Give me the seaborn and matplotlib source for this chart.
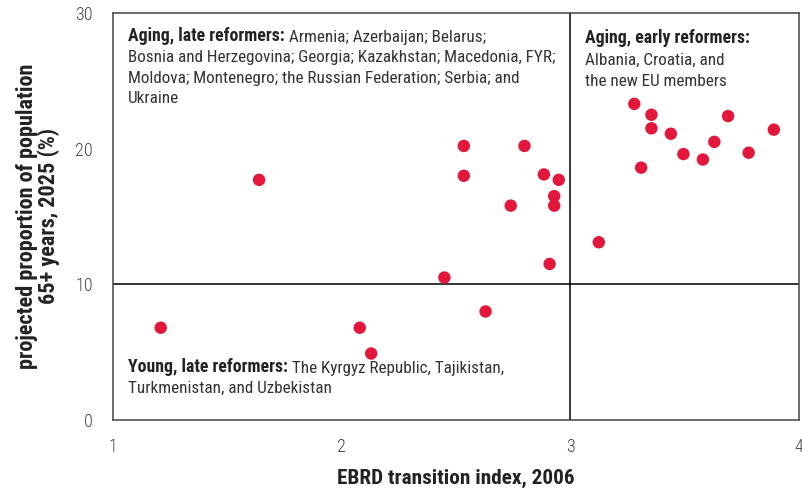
import pandas as pd
import numpy as np
import matplotlib.pyplot as plt
import seaborn as sns

# EBRD transition index 2006 vs projected share of population 65+ in 2025
ebrd_index = [1.21, 1.64, 2.08, 2.13, 2.45, 2.535, 2.535, 2.63, 2.74, 2.80,
              2.885, 2.91, 2.93, 2.93, 2.95, 3.125, 3.28, 3.31, 3.355, 3.355,
              3.44, 3.495, 3.58, 3.63, 3.69, 3.78, 3.89]
pop_65plus = [6.8, 17.7, 6.8, 4.9, 10.5, 20.2, 18.0, 8.0, 15.8, 20.2,
              18.1, 11.5, 16.5, 15.8, 17.7, 13.1, 23.3, 18.6, 22.5, 21.5,
              21.1, 19.6, 19.2, 20.5, 22.4, 19.7, 21.4]
x_ticks = [1, 2, 3, 4]
y_ticks = [0, 10, 20, 30]

df = pd.DataFrame({"ebrd": ebrd_index, "old": pop_65plus})

sns.set_style("white")
plt.rcParams["font.family"] = ["Roboto Condensed", "DejaVu Sans"]

fig, ax = plt.subplots(figsize=(8.03, 4.9), dpi=100)
fig.subplots_adjust(left=0.1403, right=0.995, top=0.9735, bottom=0.1429)

ax.axhline(10, color="black", lw=1.1, zorder=1)
ax.axvline(3, color="black", lw=1.1, zorder=1)
sns.scatterplot(data=df, x="ebrd", y="old", color="#e2173b", s=80,
                edgecolor="none", ax=ax, zorder=3)

ax.set_xlim(1, 4)
ax.set_ylim(0, 30)
ax.set_xticks(x_ticks)
ax.set_yticks(y_ticks)
ax.set_xticklabels([str(v) for v in x_ticks], fontweight="light")
ax.set_yticklabels([str(v) for v in y_ticks], fontweight="light")
for s in ax.spines.values():
    s.set_color("#444444")
    s.set_linewidth(1.1)
ax.tick_params(axis="x", direction="out", length=5, width=1, color="#444444",
               labelsize=13, labelcolor="#444444", pad=8)
ax.tick_params(axis="y", direction="inout", length=12, width=1, color="#444444",
               labelsize=13, labelcolor="#444444", pad=8)

ax.set_xlabel("EBRD transition index, 2006", fontsize=15.3, fontweight="bold",
              labelpad=9, color="#222222")
ax.set_ylabel("projected proportion of population\n65+ years, 2025 (%)",
              fontsize=16, fontweight="bold", labelpad=11, color="#222222",
              linespacing=1.0)

fs = 12.3
fsb = 12.8
grey = "#333333"
dark = "#222222"

# upper left: aging, late reformers
t1 = ax.text(1.067, 27.95, "Aging, late reformers:", fontsize=fsb,
             fontweight="bold", color=dark, va="baseline")
ax.annotate(" Armenia; Azerbaijan; Belarus;", xy=(1, 0), xycoords=t1,
            fontsize=fs, color=grey, va="bottom")
left_lines = ["Bosnia and Herzegovina; Georgia; Kazakhstan; Macedonia, FYR;",
              "Moldova; Montenegro; the Russian Federation; Serbia; and",
              "Ukraine"]
for yy, line in zip([26.4, 24.83, 23.36], left_lines):
    ax.text(1.067, yy, line, fontsize=fs, color=grey, va="baseline")

# upper right: aging, early reformers
ax.text(3.065, 27.8, "Aging, early reformers:", fontsize=fsb,
        fontweight="bold", color=dark, va="baseline")
for yy, line in zip([26.2, 24.62], ["Albania, Croatia, and", "the new EU members"]):
    ax.text(3.065, yy, line, fontsize=fs, color=grey, va="baseline")

# lower left: young, late reformers
t3 = ax.text(1.067, 3.56, "Young, late reformers:", fontsize=fsb,
             fontweight="bold", color=dark, va="baseline")
ax.annotate(" The Kyrgyz Republic, Tajikistan,", xy=(1, 0), xycoords=t3,
            fontsize=fs, color=grey, va="bottom")
ax.text(1.067, 1.99, "Turkmenistan, and Uzbekistan", fontsize=fs, color=grey,
        va="baseline")

plt.savefig("out.png", dpi=100)
